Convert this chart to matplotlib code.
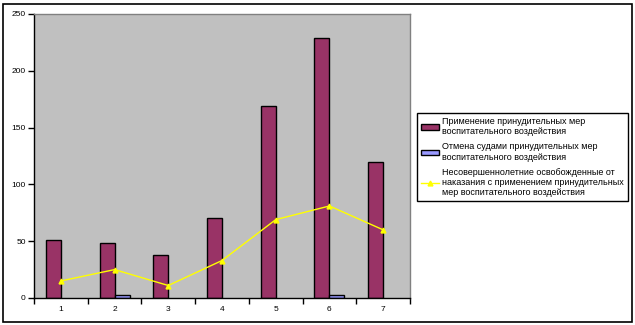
import matplotlib
matplotlib.use("Agg")
import matplotlib.pyplot as plt
import numpy as np
from matplotlib.patches import Rectangle, Patch

plt.rcParams['font.family'] = ['Liberation Sans', 'DejaVu Sans']

categories = ["1", "2", "3", "4", "5", "6", "7"]
applied = [51, 48, 38, 70, 169, 229, 120]
cancelled = [0, 3, 0, 0, 0, 3, 0]
released = [15, 25, 11, 33, 69, 81, 60]

labels = [
    "Применение принудительных мер\nвоспитательного воздействия",
    "Отмена судами принудительных мер\nвоспитательного воздействия",
    "Несовершеннолетние освобожденные от\nнаказания с применением принудительных\nмер воспитательного воздействия",
]

W, H = 635, 325
fig = plt.figure(figsize=(W / 100, H / 100), dpi=100)
fig.patch.set_facecolor("white")

# outer chart frame
fig.add_artist(Rectangle((3 / W, 3 / H), 629 / W, 318 / H, transform=fig.transFigure,
                         fill=False, edgecolor="black", linewidth=1.2))

ax = fig.add_axes([34 / W, (H - 298) / H, 376 / W, 284 / H])
ax.set_facecolor("#C0C0C0")

x = np.arange(len(categories))
bw = 0.28
b1 = ax.bar(x - bw / 2, applied, width=bw, color="#993366", edgecolor="black", linewidth=1)
b2 = ax.bar(x + bw / 2, cancelled, width=bw, color="#9999FF", edgecolor="black", linewidth=1)
for patch, v in zip(b2.patches, cancelled):
    if v == 0:
        patch.set_visible(False)
l1, = ax.plot(x, released, color="#FFFF00", linewidth=1, marker="^", markersize=3.5,
              markerfacecolor="#FFFF00", markeredgecolor="#FFFF00")

ax.set_xlim(-0.5, len(categories) - 0.5)
ax.set_ylim(0, 250)
ax.set_yticks([0, 50, 100, 150, 200, 250])
ax.set_xticks(x)
ax.set_xticklabels(categories)
ax.set_xticks(np.arange(-0.5, len(categories)), minor=True)
ax.tick_params(axis="x", which="major", length=0, labelsize=6, pad=6)
ax.tick_params(axis="x", which="minor", length=4, direction="out", width=1)
ax.tick_params(axis="y", length=4, direction="out", labelsize=6, width=1, pad=2)

for s in ["top", "right"]:
    ax.spines[s].set_color("#808080")
    ax.spines[s].set_linewidth(1)
for s in ["left", "bottom"]:
    ax.spines[s].set_color("black")
    ax.spines[s].set_linewidth(1)

h1 = Patch(facecolor="#993366", edgecolor="black", linewidth=1)
h2 = Patch(facecolor="#9999FF", edgecolor="black", linewidth=1)
leg = fig.legend(handles=[h1, h2, l1], labels=labels, loc="upper left",
                 bbox_to_anchor=(417 / W, (H - 113) / H), fontsize=6.5,
                 frameon=True, fancybox=False, edgecolor="black", framealpha=1,
                 handlelength=2.0, handleheight=0.55, handletextpad=0.3,
                 labelspacing=0.65, borderpad=0.45, borderaxespad=0)
leg.get_frame().set_linewidth(1)

fig.savefig("out.png", dpi=100)
